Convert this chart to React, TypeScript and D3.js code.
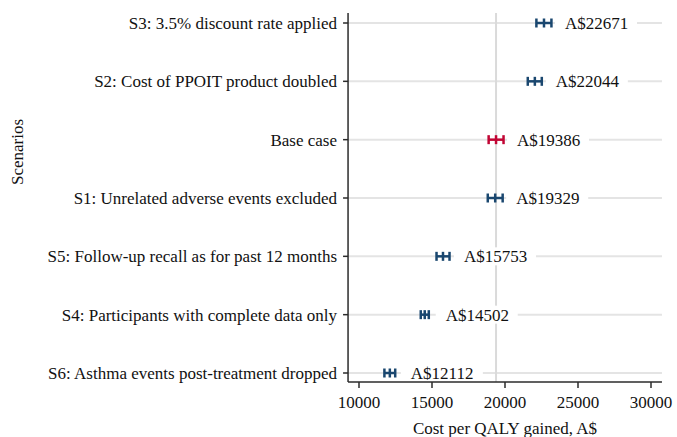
import React from "react";
import { scaleLinear, scalePoint } from "d3";

// scenarios, top to bottom
const scenarios = [
  "S3: 3.5% discount rate applied",
  "S2: Cost of PPOIT product doubled",
  "Base case",
  "S1: Unrelated adverse events excluded",
  "S5: Follow-up recall as for past 12 months",
  "S4: Participants with complete data only",
  "S6: Asthma events post-treatment dropped",
];
// point estimate, A$ per QALY
const icer = [22671, 22044, 19386, 19329, 15753, 14502, 12112];
// interval ends
const lower = [22150, 21560, 18880, 18820, 15310, 14230, 11740];
const upper = [23180, 22520, 19900, 19840, 16200, 14780, 12480];
const xTicks = [10000, 15000, 20000, 25000, 30000];
const baseValue = 19386;

const W = 677;
const H = 437;
const FONT = "'Liberation Serif', 'Times New Roman', serif";
const BLUE = "#1a476f";
const RED = "#c10534";
const GRID = "#e4e4e4";
const AXIS = "#2b2b2b";

export default function App() {
  const x = scaleLinear().domain([10000, 30000]).range([359, 651]);
  const y = scalePoint<string>().domain(scenarios).range([23, 373]);
  const left = x(9250);
  const right = x(30750);
  const top = 13;
  const bottom = 382;

  return (
    <svg
      width={W}
      height={H}
      style={{ position: "absolute", left: 0, top: 0, background: "#fff" }}
      fontFamily={FONT}
    >
      {/* horizontal grid */}
      {scenarios.map((s) => (
        <line key={"g" + s} x1={left} x2={right} y1={y(s)} y2={y(s)} stroke={GRID} strokeWidth={2} />
      ))}
      {/* reference line at base case */}
      <line x1={x(baseValue)} x2={x(baseValue)} y1={top} y2={bottom} stroke="#dadada" strokeWidth={2} />

      {/* markers + labels */}
      {scenarios.map((s, i) => {
        const cy = y(s) as number;
        const cx = x(icer[i]);
        const col = s === "Base case" ? RED : BLUE;
        const label = "A$" + icer[i];
        const tw = label.length * 9 + 1;
        return (
          <g key={"m" + s}>
            <rect x={cx + 11} y={cy - 9} width={tw + 18} height={18} fill="#fff" />
            <line x1={x(lower[i])} x2={x(upper[i])} y1={cy} y2={cy} stroke={col} strokeWidth={2.5} />
            {[lower[i], icer[i], upper[i]].map((v, k) => (
              <line key={k} x1={x(v)} x2={x(v)} y1={cy - 4.5} y2={cy + 4.5} stroke={col} strokeWidth={2.5} />
            ))}
            <text x={cx + 21} y={cy + 6} fontSize={17} fill="#111">
              {label}
            </text>
          </g>
        );
      })}

      {/* y axis */}
      <line x1={left} x2={left} y1={top} y2={bottom} stroke={AXIS} strokeWidth={1.5} />
      {scenarios.map((s) => (
        <g key={"t" + s}>
          <line x1={left - 5} x2={left} y1={y(s)} y2={y(s)} stroke={AXIS} strokeWidth={1.5} />
          <text x={left - 11} y={(y(s) as number) + 6} textAnchor="end" fontSize={17} fill="#111">
            {s}
          </text>
        </g>
      ))}
      <text transform={`translate(23,152) rotate(-90)`} textAnchor="middle" fontSize={17} fill="#111">
        Scenarios
      </text>

      {/* x axis */}
      <line x1={left} x2={right} y1={bottom} y2={bottom} stroke={AXIS} strokeWidth={1.5} />
      {xTicks.map((t) => (
        <g key={"x" + t}>
          <line x1={x(t)} x2={x(t)} y1={bottom} y2={bottom + 6} stroke={AXIS} strokeWidth={1.5} />
          <text x={x(t)} y={408} textAnchor="middle" fontSize={17} fill="#111">
            {t}
          </text>
        </g>
      ))}
      <text x={(left + right) / 2} y={434} textAnchor="middle" fontSize={17} fill="#111">
        Cost per QALY gained, A$
      </text>
    </svg>
  );
}
